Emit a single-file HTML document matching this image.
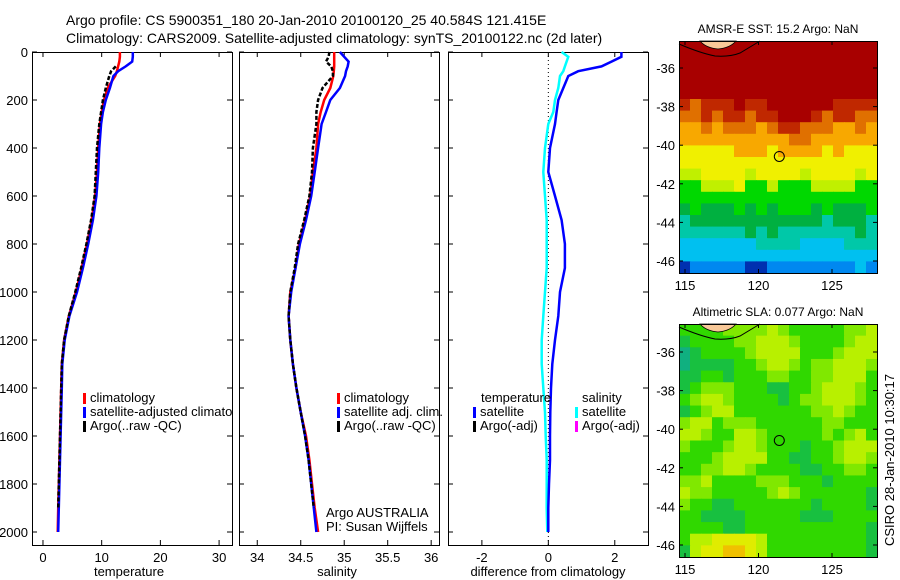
<!DOCTYPE html>
<html><head><meta charset="utf-8"><style>
body{margin:0;background:#fff;}
svg{display:block;font-family:"Liberation Sans",sans-serif;}
</style></head><body>
<svg id="c" width="900" height="580" viewBox="0 0 900 580">
<defs><clipPath id="clip1"><rect x="32" y="52" width="200" height="493"/></clipPath></defs>
<text x="66" y="25" font-size="14">Argo profile: CS 5900351_180 20-Jan-2010 20100120_25 40.584S 121.415E</text>
<text x="66" y="43" font-size="14">Climatology: CARS2009. Satellite-adjusted climatology: synTS_20100122.nc (2d later)</text>
</svg>
<script>
const depths=[0,20,40,60,80,100,150,200,250,300,400,500,600,700,800,900,1000,1100,1200,1300,1400,1500,1600,1700,1800,1900,2000];
const tClim=[13.1,13.1,13.0,12.8,12.6,12.3,11.0,10.4,10.0,9.7,9.4,9.2,8.9,8.3,7.5,6.6,5.6,4.4,3.6,3.2,3.1,3.0,2.9,2.8,2.7,2.6,2.5];
const tSat=[15.3,15.3,15.2,14.1,12.8,12.0,11.4,10.7,10.2,9.9,9.6,9.4,9.1,8.5,7.7,6.8,5.8,4.5,3.7,3.3,3.2,3.1,3.0,2.9,2.8,2.7,2.6];
const tArgo=[null,null,null,12.4,11.6,11.3,10.7,10.2,9.9,9.6,9.2,9.0,8.8,8.2,7.4,6.5,5.5,4.4,3.6,3.2,3.1,3.0,2.9,2.8,2.7,2.6,null];
const sClim=[34.885,34.885,34.885,34.885,34.88,34.875,34.84,34.77,34.73,34.70,34.68,34.64,34.61,34.55,34.48,34.44,34.38,34.36,34.38,34.41,34.45,34.50,34.56,34.60,34.63,34.66,34.70];
const sSat=[34.95,35.0,35.05,35.04,35.02,35.01,34.95,34.84,34.79,34.74,34.70,34.66,34.62,34.56,34.49,34.44,34.39,34.36,34.38,34.41,34.45,34.50,34.55,34.59,34.62,34.65,34.68];
const sArgo=[34.83,34.82,34.79,34.85,34.87,34.87,34.75,34.70,34.68,34.68,34.64,34.63,34.60,34.54,34.47,34.43,34.38,34.36,34.38,34.41,34.45,34.50,34.55,34.59,34.62,34.65,null];
const dT=[2.2,2.2,1.9,1.6,0.9,0.6,0.45,0.3,0.25,0.2,0.05,0.0,0.2,0.4,0.5,0.5,0.35,0.3,0.2,0.12,0.08,0.06,0.05,0.05,0.02,0.0,0.0];
const dS=[0.4,0.6,0.55,0.5,0.45,0.35,0.3,0.2,0.15,0.0,-0.1,-0.15,-0.1,-0.05,-0.05,-0.05,-0.1,-0.15,-0.2,-0.2,-0.15,-0.1,-0.08,-0.05,-0.05,-0.05,-0.03];
const depthTicks=[0,200,400,600,800,1000,1200,1400,1600,1800,2000];
const tTicks=[0,10,20,30];
const sTicks=[34,34.5,35,35.5,36];
const sTickLabels=["34","34.5","35","35.5","36"];
const dTicks=[-2,0,2];
const latTicks=[-36,-38,-40,-42,-44,-46];
const lonTicks=[115,120,125];
const argoLon=121.415, argoLat=-40.584;
const sstRows=["BBBBBBBBBBBBBBBBBB","BBBBBBBBBBBBBBBBBB","BBBBBBBBBBBBBBBBBB","BBBBBBBBBBBBBBBBBB","BBBBBBBBBBBBBBBBBB",
"A9AAABAABBBBBBAAAA","99A9AA9AABBBA9AA99","889899989AA9998898","888888888899888888","777778887888878777",
"777777777777777777","667777677776777767","556667556555666655","555555555555555555","454445454555454445",
"344444444444434443","333333434333333343","222222233332222333","222222222222222222","011111001111111121"];
const slaRows=["222233334322222334","122223344432222344","012222344442223444","011112234432334443","112212223322334442",
"123332221122344432","234432222123344432","123442222222334322","344233322222233222","443224432222232342",
"322234432221223444","222344442211223443","223344322221122332","334222233322212222","433222223432222221",
"322112222222122221","221111222221112222","222211222222222221","244555542222222221","145566542222222221"];

const NS="http://www.w3.org/2000/svg";
const svg=document.getElementById('c');
function mk(tag,attrs,parent){const e=document.createElementNS(NS,tag);for(const k in attrs)e.setAttribute(k,attrs[k]);(parent||svg).appendChild(e);return e;}
const Y0=52,Y1=545;
function yD(d){return 52+d*0.24;}
function panel(x0,x1,xmin,xmax,name){
  const sx=v=>x0+(v-xmin)/(xmax-xmin)*(x1-x0);
  const g=mk('g',{});
  
  
  const r=mk('rect',{x:x0+0.5,y:Y0+0.5,width:x1-x0,height:Y1-Y0,fill:'none',stroke:'#000','stroke-width':1},g);
  
  
  return {g,sx};
}
function xTicks(p,vals,labels){
  vals.forEach((v,i)=>{const x=p.sx(v);
    mk('line',{x1:x,x2:x,y1:Y0,y2:Y0+5,stroke:'#000'},p.g);
    mk('line',{x1:x,x2:x,y1:Y1,y2:Y1-5,stroke:'#000'},p.g);
    const t=mk('text',{x:x,y:Y1+17,'font-size':13,'text-anchor':'middle'},p.g);t.textContent=labels[i];
    
    
  });
}
function yTicks(p,x0,x1,labels){
  depthTicks.forEach(d=>{const y=yD(d);
    mk('line',{x1:x0,x2:x0+5,y1:y,y2:y,stroke:'#000'},p.g);
    mk('line',{x1:x1,x2:x1-5,y1:y,y2:y,stroke:'#000'},p.g);
    if(labels){const t=mk('text',{x:x0-4,y:y+5,'font-size':13,'text-anchor':'end'},p.g);t.textContent=d;
      
      }
  });
}
function series(p,vals,color,w,dash,name){
  let pts=[];let segs=[];
  vals.forEach((v,i)=>{if(v===null){if(pts.length)segs.push(pts);pts=[];}else pts.push(p.sx(v).toFixed(1)+','+yD(depths[i]).toFixed(1));});
  if(pts.length)segs.push(pts);
  segs.forEach(s=>{const l=mk('polyline',{points:s.join(' '),fill:'none',stroke:color,'stroke-width':w,'stroke-dasharray':dash||'none'},p.g);
    
    });
}
function legend(p,x,y,items,clip){
  const lg=mk('g',clip?{'clip-path':'url(#'+clip+')'}:{},p.g);
  items.forEach((it,i)=>{
    mk('rect',{x:x,y:y+i*14-9,width:3,height:11,fill:it[1]},lg);
    const t=mk('text',{x:x+7,y:y+i*14,'font-size':13},lg);t.textContent=it[0];
    
    
  });
}
function label(p,x,y,txt,name,anchor){const t=mk('text',{x:x,y:y,'font-size':13,'text-anchor':anchor||'middle'},p.g);t.textContent=txt;
  
  return t;}

const p1=panel(32,232,-1.87,32.2,'temperature-panel');
xTicks(p1,tTicks,tTicks.map(String));yTicks(p1,32,232,true);
series(p1,tClim,'#f00',2.5,null,'temp-climatology-line');
series(p1,tSat,'#00f',2.5,null,'temp-satellite-line');
series(p1,tArgo,'#000',2.5,'4 2','temp-argo-line');
legend(p1,83,402,[['climatology','#f00'],['satellite-adjusted climatology','#00f'],['Argo(..raw -QC)','#000']],'clip1');
label(p1,129,576,'temperature','x-axis-title-temperature');

const p2=panel(239,439,33.79,36.09,'salinity-panel');
xTicks(p2,sTicks,sTickLabels);yTicks(p2,239,439,false);
series(p2,sClim,'#f00',2.5,null,'sal-climatology-line');
series(p2,sSat,'#00f',2.5,null,'sal-satellite-line');
series(p2,sArgo,'#000',2.5,'4 2','sal-argo-line');
legend(p2,337,402,[['climatology','#f00'],['satellite adj. clim.','#00f'],['Argo(..raw -QC)','#000']]);
label(p2,326,517,'Argo AUSTRALIA','argo-australia-label','start');
label(p2,326,531,'PI: Susan Wijffels','pi-label','start');
label(p2,337,576,'salinity','x-axis-title-salinity');

const p3=panel(448,648,-3.02,3.0,'difference-panel');
xTicks(p3,dTicks,dTicks.map(String));yTicks(p3,448,648,false);
mk('line',{x1:p3.sx(0),x2:p3.sx(0),y1:Y0,y2:Y1,stroke:'#000','stroke-dasharray':'1 3'},p3.g);
series(p3,dS,'#0ff',2.5,null,'sal-diff-line');
series(p3,dT,'#00f',2.5,null,'temp-diff-line');
label(p3,481,402,'temperature','legend-temperature-header','start');
legend(p3,473,416,[['satellite','#00f'],['Argo(-adj)','#000']]);
label(p3,582,402,'salinity','legend-salinity-header','start');
legend(p3,575,416,[['satellite','#0ff'],['Argo(-adj)','#f0f']]);
label(p3,548,576,'difference from climatology','x-axis-title-difference');

const sstCol={'0':'#0030b0','1':'#0088f0','2':'#00c0f0','3':'#00c8a8','4':'#00b040','5':'#00d800','6':'#c0f000','7':'#f0f000','8':'#f8a800','9':'#e07000','A':'#c02800','B':'#a80000'};
const slaCol={'0':'#10b080','1':'#18c040','2':'#30d800','3':'#80e800','4':'#b8f000','5':'#e0ec00','6':'#f0c000'};
function map(x0,x1,yt,yb,lat36,lat46,rows,cols,name,title){
  const sLat=(lat46-lat36)/(-10);
  const ly=v=>lat36+(v+36)*sLat;
  const lx=v=>685+(v-115)*14.7;
  const g=mk('g',{});
  
  
  const nr=rows.length,nc=rows[0].length,cw=(x1-x0)/nc,ch=(yb-yt)/nr;
  rows.forEach((r,i)=>{for(let j=0;j<nc;j++){
    mk('rect',{x:(x0+j*cw).toFixed(2),y:(yt+i*ch).toFixed(2),width:(cw+0.6).toFixed(2),height:(ch+0.6).toFixed(2),fill:cols[r[j]]},g);}});
  mk('path',{d:`M${x0} ${yt+3} Q700 ${yt+12} 715 ${yt+15} Q730 ${yt+16} 740 ${yt+12} Q750 ${yt+6} 760 ${yt}`,fill:'none',stroke:'#000','stroke-width':1},g);
  mk('path',{d:`M700 ${yt} Q706 ${yt+7} 718 ${yt+8} Q730 ${yt+7} 736 ${yt}Z`,fill:'#f8c898',stroke:'#000','stroke-width':0.8},g);
  mk('rect',{x:x0+0.5,y:yt+0.5,width:x1-x0,height:yb-yt,fill:'none',stroke:'#000'},g);
  latTicks.forEach(v=>{const y=ly(v);
    mk('line',{x1:x0,x2:x0+4,y1:y,y2:y,stroke:'#000'},g);mk('line',{x1:x1,x2:x1-4,y1:y,y2:y,stroke:'#000'},g);
    const t=mk('text',{x:x0-4,y:y+5,'font-size':13,'text-anchor':'end'},g);t.textContent=v;
    
    });
  lonTicks.forEach(v=>{const x=lx(v);
    mk('line',{x1:x,x2:x,y1:yt,y2:yt+4,stroke:'#000'},g);mk('line',{x1:x,x2:x,y1:yb,y2:yb-4,stroke:'#000'},g);
    const t=mk('text',{x:x,y:yb+17,'font-size':13,'text-anchor':'middle'},g);t.textContent=v;
    
    });
  const c=mk('circle',{cx:lx(argoLon),cy:ly(argoLat),r:5,fill:'none',stroke:'#000'},g);
  
  
  const t=mk('text',{x:(x0+x1)/2,y:yt-8,'font-size':12,'text-anchor':'middle'},g);t.textContent=title;
  
  
}
map(679,877,41,273,68,261,sstRows,sstCol,'sst-map','AMSR-E SST: 15.2 Argo: NaN');
map(679,877,324,557,352,545,slaRows,slaCol,'sla-map','Altimetric SLA: 0.077 Argo: NaN');
const v=mk('text',{x:0,y:0,'font-size':13,'text-anchor':'middle',transform:'translate(894,460) rotate(-90)'});
v.textContent='CSIRO 28-Jan-2010 10:30:17';


</script>
</body></html>
